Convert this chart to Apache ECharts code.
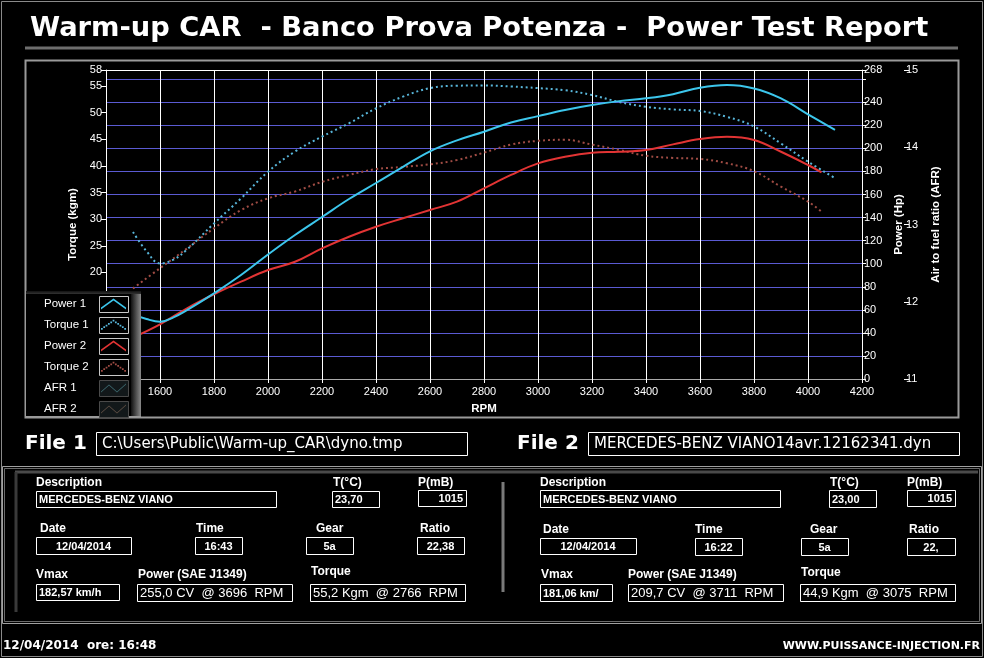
<!DOCTYPE html>
<html><head><meta charset="utf-8">
<script src="https://cdn.jsdelivr.net/npm/echarts@6/dist/echarts.min.js"></script>
<style>html,body{margin:0;padding:0;background:#000;}#c{width:984px;height:658px;}</style>
</head><body><div id="c"></div>
<script>
// ---------- DATA ----------
const rpm1    = [1500,1550,1600,1650,1700,1800,1900,2000,2100,2200,2300,2400,2500,2600,2700,2800,2900,3000,3100,3200,3300,3400,3500,3600,3700,3800,3900,4000,4100];
const power1  = [56,52,49.7,53.5,59.8,74.3,90.2,108,124.9,140.5,156.1,170,184,197.5,207,214.5,222.5,228,233.3,237.6,241,243.4,247,252.7,255,252,243.4,229.6,216];
const torque1 = [27.6,24.0,21.7,22.4,24.3,29.2,33.9,38.9,42.7,45.5,48.0,50.8,53.0,54.6,55.05,55.1,54.9,54.6,54.2,53.3,52.0,51.1,50.6,50.3,49.2,47.4,44.2,40.8,37.7];
const rpm2    = [1500,1600,1700,1800,1900,2000,2100,2200,2300,2400,2500,2600,2700,2800,2900,3000,3100,3200,3300,3400,3500,3600,3700,3800,3900,4000,4050];
const power2  = [36,47.4,61.3,73.5,84.4,94.5,101.7,113.3,123.4,132.1,139.4,146.6,153.8,165.4,177,187,192.8,196.3,197.1,198.6,203.5,208.1,210.1,207.3,197.1,185.6,179.3];
const torque2 = [17.0,20.8,24.5,28.3,31.7,33.9,35.2,37.0,38.3,39.4,39.8,40.3,41.1,42.5,44.0,44.7,44.9,44.0,43.0,41.9,41.5,41.3,40.5,39.0,36.1,33.3,31.4];
const afr1 = [];
const afr2 = [];
const seriesNames = ['Power 1','Torque 1','Power 2','Torque 2','AFR 1','AFR 2'];

const titleText = 'Warm-up CAR  - Banco Prova Potenza -  Power Test Report';
const file1Path = 'C:\\Users\\Public\\Warm-up_CAR\\dyno.tmp';
const file2Path = 'MERCEDES-BENZ VIANO14avr.12162341.dyn';
const file1Values = ['MERCEDES-BENZ VIANO','23,70','1015','12/04/2014','16:43','5a','22,38','182,57 km/h','255,0 CV  @ 3696  RPM','55,2 Kgm  @ 2766  RPM'];
const file2Values = ['MERCEDES-BENZ VIANO','23,00','1015','12/04/2014','16:22','5a','22,','181,06 km/','209,7 CV  @ 3711  RPM','44,9 Kgm  @ 3075  RPM'];
const fieldLabels = ['Description','T(°C)','P(mB)','Date','Time','Gear','Ratio','Vmax','Power (SAE J1349)','Torque'];
const footerLeft = '12/04/2014  ore: 16:48';
const footerRight = 'WWW.PUISSANCE-INJECTION.FR';

// ---------- helpers ----------
const zip = (xs, ys) => xs.map((x, i) => [x, ys[i]]);

function dotChevron() {
  let p = 'path://M0,0L0.01,0L0,0.01Z M25,11L24.99,11L25,10.99Z';
  const legs = [[0.5, 9.5, 12.5, 1], [12.5, 1, 24.5, 9.5]];
  legs.forEach(([x0, y0, x1, y1], li) => {
    const n = 5;
    for (let i = (li ? 1 : 0); i <= n; i++) {
      const t = i / n, x = x0 + (x1 - x0) * t, y = y0 + (y1 - y0) * t;
      p += `M${(x-0.9).toFixed(2)},${(y-0.9).toFixed(2)}L${(x+0.9).toFixed(2)},${(y-0.9).toFixed(2)}L${(x+0.9).toFixed(2)},${(y+0.9).toFixed(2)}L${(x-0.9).toFixed(2)},${(y+0.9).toFixed(2)}Z`;
    }
  });
  return p;
}
const solidChevron = 'path://M0,9L12.5,0L25,9L25,11L12.5,2L0,11Z';
const zigzag = 'path://M0,0L0.01,0L0,0.01Z M0,9L8,2L16,9L25,1L25,2L16,10L8,3L0,10Z M25,11L24.99,11L25,10.99Z';
const legendIcons = [solidChevron, dotChevron(), solidChevron, dotChevron(), zigzag, zigzag];

const LBL = 'bold 12px "Liberation Sans", Arial, sans-serif';
const VAL = 'bold 11px "Liberation Sans", Arial, sans-serif';
const VAL2 = '13px "Liberation Sans", Arial, sans-serif';

function rect(x, y, w, h, stroke, fill, lw, z) {
  return { type: 'rect', z: z || 1, shape: { x: x + 0.5, y: y + 0.5, width: w, height: h },
           style: { fill: fill || 'none', stroke: stroke || '#fff', lineWidth: lw || 1 } };
}
function line(x1, y1, x2, y2, stroke, lw, z) {
  return { type: 'line', z: z || 1, shape: { x1, y1, x2, y2 }, style: { stroke, lineWidth: lw } };
}
function txt(x, y, text, font, align, fill, z) {
  return { type: 'text', z: z || 2, x, y,
           style: { text, font, fill: fill || '#fff', textAlign: align || 'left', align: align || 'left',
                    textVerticalAlign: 'middle', verticalAlign: 'middle' } };
}

// layout for each info panel: [labelX,labelY, boxX,boxY,boxW,boxH, valueAlign, valueFont]
const layout1 = [
  [36,483, 36,491,240,16,'left',VAL],[333,483, 332,491,47,16,'left',VAL],[418,483, 418,490,48,16,'right',VAL],
  [40,529, 36,537,95,17,'center',VAL],[196,529, 195,537,47,17,'center',VAL],[316,529, 306,537,47,17,'center',VAL],[420,529, 417,537,47,17,'center',VAL],
  [36,575, 36,584,83,16,'left',VAL],[138,575, 137,584,155,17,'left',VAL2],[311,572, 310,584,155,17,'left',VAL2]
];
const layout2 = [
  [540,483, 540,490,240,17,'left',VAL],[830,483, 829,490,47,17,'left',VAL],[907,483, 907,490,48,16,'right',VAL],
  [543,530, 540,538,96,16,'center',VAL],[695,530, 695,538,47,17,'center',VAL],[810,530, 801,538,47,17,'center',VAL],[909,530, 907,538,48,17,'center',VAL],
  [541,575, 540,584,72,17,'left',VAL],[628,575, 628,584,155,17,'left',VAL2],[801,573, 800,584,155,17,'left',VAL2]
];
function panel(layout, values) {
  const els = [];
  layout.forEach((L, i) => {
    const [lx, ly, bx, by, bw, bh, al, font] = L;
    els.push(txt(lx, ly, fieldLabels[i], LBL, 'left'));
    els.push(rect(bx, by, bw, bh, '#fff', '#000', 1));
    const vx = al === 'left' ? bx + 3 : al === 'right' ? bx + bw - 3 : bx + bw / 2;
    els.push(txt(vx, by + bh / 2 + 1, values[i], font, al));
  });
  return els;
}

const graphics = [
  rect(1, 1, 981, 655, '#8a8a8a', 'none', 1, 0),
  txt(30, 29, titleText, 'bold 27.3px "DejaVu Sans", Verdana, sans-serif', 'left'),
  line(25, 48, 958, 48, '#6e6e6e', 3, 1),
  rect(25, 60, 933, 357, '#9a9a9a', 'none', 2, 1),
  // legend panel
  { type: 'rect', z: 15, shape: { x: 26, y: 293, width: 115, height: 124 }, style: { fill: '#000' } },
  { type: 'rect', z: 15, shape: { x: 131, y: 293, width: 10, height: 124 },
    style: { fill: new echarts.graphic.LinearGradient(0, 0, 1, 0, [{ offset: 0, color: '#111' }, { offset: 1, color: '#8a8a8a' }]) } },
  { type: 'rect', z: 15, shape: { x: 26, y: 291, width: 115, height: 3 },
    style: { fill: new echarts.graphic.LinearGradient(0, 0, 0, 1, [{ offset: 0, color: '#111' }, { offset: 1, color: '#333' }]) } },
  line(25, 417, 141, 417, '#9a9a9a', 2, 16),
  // file headers
  txt(25, 444, 'File 1', 'bold 20px "DejaVu Sans", Verdana, sans-serif', 'left'),
  rect(96, 432, 371, 23, '#fff', '#000', 1),
  txt(102, 444, file1Path, '15px "DejaVu Sans", Verdana, sans-serif', 'left'),
  txt(517, 444, 'File 2', 'bold 20px "DejaVu Sans", Verdana, sans-serif', 'left'),
  rect(588, 432, 371, 23, '#fff', '#000', 1),
  txt(594, 444, file2Path, '15px "DejaVu Sans", Verdana, sans-serif', 'left'),
  // info frame
  rect(2, 466, 979, 157, '#a0a0a0', 'none', 1, 0),
  rect(4, 468, 975, 153, '#6a6a6a', 'none', 1, 0),
  line(15, 472, 978, 472, '#4a4a4a', 3, 0),
  line(16, 472, 16, 612, '#3a3a3a', 3, 0),
  line(503, 482, 503, 592, '#7a7a7a', 3, 0),
  // footer
  txt(3, 646, footerLeft, 'bold 12px "DejaVu Sans", Verdana, sans-serif', 'left'),
  txt(980, 646, footerRight, 'bold 11px "DejaVu Sans", Verdana, sans-serif', 'right')
];
// legend boxes
seriesNames.forEach((n, i) => {
  const afr = i >= 4;
  graphics.push(rect(99, 296 + i * 21, 29, 16, afr ? '#4a4a4a' : '#c8c8c8', afr ? '#12181a' : '#000', 1, 16));
});
graphics.push(...panel(layout1, file1Values), ...panel(layout2, file2Values));

const axisFont = { color: '#fff', fontSize: 11, fontFamily: '"Liberation Sans", Arial, sans-serif' };
const nameFont = { color: '#fff', fontSize: 11.5, fontWeight: 'bold', fontFamily: '"Liberation Sans", Arial, sans-serif' };

const hColors = ['#8a8a8a'];
for (let i = 0; i < 13; i++) hColors.push('#5a5ad2');
hColors.push('#ffffff');

const option = {
  backgroundColor: '#000',
  animation: false,
  grid: { left: 106, right: 122, top: 70, bottom: 279, containLabel: false },
  xAxis: {
    type: 'value', min: 1400, max: 4200, interval: 200,
    name: 'RPM', nameLocation: 'middle', nameGap: 24, nameTextStyle: nameFont,
    axisLine: { show: true, lineStyle: { color: '#aaa', width: 1 } },
    axisTick: { show: true, length: 4, lineStyle: { color: '#fff' } },
    axisLabel: Object.assign({ margin: 7, formatter: v => String(v) }, axisFont),
    splitLine: { show: true, lineStyle: { color: '#fff', width: 1 } }
  },
  yAxis: [
    { type: 'value', position: 'left', min: 0, max: 58, interval: 5,
      name: 'Torque (kgm)', nameLocation: 'middle', nameGap: 25, nameTextStyle: nameFont,
      axisLine: { show: true, lineStyle: { color: '#fff' } },
      axisTick: { show: true, length: 5, lineStyle: { color: '#fff' } },
      axisLabel: Object.assign({ margin: 4, showMaxLabel: true, formatter: v => String(v) }, axisFont),
      splitLine: { show: false } },
    { type: 'value', position: 'right', min: 0, max: 268, interval: 20,
      name: 'Power (Hp)', nameLocation: 'middle', nameGap: 30, nameTextStyle: nameFont,
      axisLine: { show: true, lineStyle: { color: '#fff' } },
      axisTick: { show: true, length: 4, lineStyle: { color: '#fff' } },
      axisLabel: Object.assign({ margin: 2, showMaxLabel: true, formatter: v => (v === 260 ? '' : String(v)) }, axisFont),
      splitLine: { show: true, lineStyle: { color: hColors, width: 1 } } },
    { type: 'value', position: 'right', offset: 42, min: 11, max: 15, interval: 1,
      name: 'Air to fuel ratio (AFR)', nameLocation: 'middle', nameGap: 26, nameTextStyle: nameFont,
      axisLine: { show: false },
      axisTick: { show: true, length: 5, lineStyle: { color: '#fff' } },
      axisLabel: Object.assign({ margin: 2 }, axisFont),
      splitLine: { show: false } }
  ],
  legend: {
    orient: 'vertical', left: 44, top: 298, z: 20, padding: 0,
    itemWidth: 25, itemHeight: 11, itemGap: 9,
    align: 'right',
    itemStyle: { borderWidth: 0 },
    formatter: n => `{n|${n}}`,
    textStyle: { color: '#fff', lineHeight: 11, rich: { n: { width: 52, lineHeight: 11, align: 'left', color: '#fff', fontSize: 11.5, fontFamily: '"Liberation Sans", Arial, sans-serif' } } },
    data: seriesNames.map((n, i) => ({ name: n, icon: legendIcons[i] })),
    selectedMode: false
  },
  graphic: { elements: graphics },
  series: [
    { name: 'Torque 2', type: 'line', yAxisIndex: 0, data: zip(rpm2, torque2), smooth: 0.4, showSymbol: false, color: '#a04c44',
      lineStyle: { color: '#a04c44', width: 2, type: [2, 3] } },
    { name: 'Torque 1', type: 'line', yAxisIndex: 0, data: zip(rpm1, torque1), smooth: 0.4, showSymbol: false, color: '#58b6da',
      lineStyle: { color: '#58b6da', width: 2, type: [2, 3] } },
    { name: 'Power 2', type: 'line', yAxisIndex: 1, data: zip(rpm2, power2), smooth: 0.4, showSymbol: false, color: '#e23434',
      lineStyle: { color: '#e23434', width: 2 } },
    { name: 'Power 1', type: 'line', yAxisIndex: 1, data: zip(rpm1, power1), smooth: 0.4, showSymbol: false, color: '#3cc6ec',
      lineStyle: { color: '#3cc6ec', width: 2 } },
    { name: 'AFR 1', type: 'line', yAxisIndex: 2, data: afr1, showSymbol: false, color: '#3e6a70', lineStyle: { color: '#3e6a70', width: 1 } },
    { name: 'AFR 2', type: 'line', yAxisIndex: 2, data: afr2, showSymbol: false, color: '#5e4e44', lineStyle: { color: '#5e4e44', width: 1 } }
  ]
};
const chart = echarts.init(document.getElementById('c'), null, { renderer: 'canvas' });
chart.setOption(option);
</script>
</body></html>
